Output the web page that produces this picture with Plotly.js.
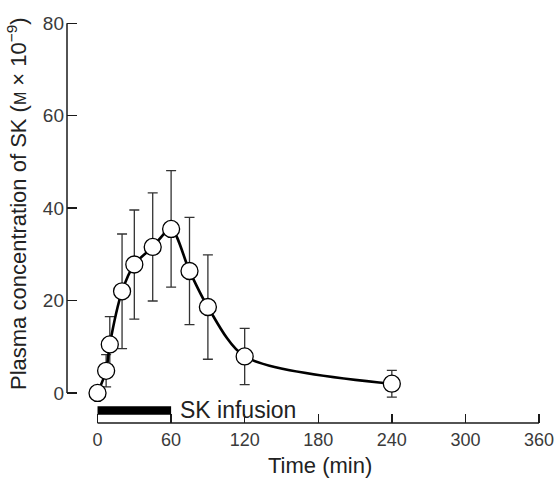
<!DOCTYPE html>
<html>
<head>
<meta charset="utf-8">
<script src="https://cdn.plot.ly/plotly-3.0.1.min.js"></script>
<style>html,body{margin:0;padding:0;background:#fff;}#chart{width:554px;height:483px;}</style>
</head>
<body>
<div id="chart"></div>
<script>
// Time after start of infusion (min)
const timeMin = [0, 7, 10, 20, 30, 45, 60, 75, 90, 120, 240];
// Mean plasma concentration of SK (M x 10^-9)
const concMean = [0, 4.8, 10.5, 22.0, 27.8, 31.6, 35.5, 26.4, 18.6, 7.9, 2.0];
// Error bar half-widths
const concErr = [0, 3.5, 6.0, 12.4, 11.8, 11.7, 12.6, 11.6, 11.3, 6.1, 2.9];
const xTicks = [0, 60, 120, 180, 240, 300, 360];
const yTicks = [0, 20, 40, 60, 80];
const infusionStart = 0, infusionEnd = 60;

const ink = '#1a1a1a';
const fontFam = 'Liberation Sans, Arial, sans-serif';

const traces = [{
  x: timeMin, y: concMean, type: 'scatter', mode: 'lines+markers',
  line: {color: '#000', width: 2.6, shape: 'spline', smoothing: 0.8},
  marker: {symbol: 'circle', size: 17, color: '#fff', line: {color: '#000', width: 1.3}},
  error_y: {type: 'data', array: concErr, visible: true, color: '#333', thickness: 1.3, width: 5},
  cliponaxis: false, hoverinfo: 'skip'
}];

const layout = {
  width: 554, height: 483,
  margin: {l: 67, r: 10, t: 21, b: 60},
  paper_bgcolor: '#fff', plot_bgcolor: '#fff',
  showlegend: false,
  font: {family: fontFam, color: '#2a2a2a', size: 18},
  xaxis: {
    range: [-24.9, 364.1], tickvals: xTicks, ticktext: xTicks.map(String),
    ticks: 'inside', ticklen: 9, tickwidth: 1.4, tickcolor: ink,
    showline: false, showgrid: false, zeroline: false,
    tickfont: {size: 18, color: '#3a3a3a'}, ticklabelstandoff: 4,
    ticklabeloverflow: 'allow'
  },
  yaxis: {
    range: [-6.5, 80.5], tickvals: yTicks, ticktext: yTicks.map(String),
    ticks: 'inside', ticklen: 10, tickwidth: 1.4, tickcolor: ink,
    showline: false, showgrid: false, zeroline: false,
    tickfont: {size: 19, color: '#3a3a3a'}, ticklabelstandoff: 2,
    ticklabeloverflow: 'allow'
  },
  shapes: [
    {type: 'line', xref: 'paper', yref: 'y', x0: 0, x1: 0, y0: 0, y1: 80, line: {color: ink, width: 1.5}},
    {type: 'line', xref: 'x', yref: 'paper', x0: 0, x1: 360, y0: 0, y1: 0, line: {color: ink, width: 1.5}},
    {type: 'rect', xref: 'x', yref: 'y', x0: infusionStart, x1: infusionEnd, y0: -4.7, y1: -2.9, fillcolor: '#000', line: {width: 0}}
  ],
  annotations: [
    {text: 'SK infusion', xref: 'x', yref: 'y', x: 66, y: -3.6, xanchor: 'left', yanchor: 'middle', showarrow: false, font: {size: 23, color: '#222'}},
    {text: 'Time (min)', xref: 'paper', yref: 'paper', x: (320 - 67) / 477, y: -(466 - 423) / 402, xanchor: 'center', yanchor: 'middle', showarrow: false, font: {size: 22, color: '#222'}},
    {text: 'Plasma concentration of SK (<span style="font-size:16px">M</span> × 10<sup>−9</sup>)', xref: 'paper', yref: 'paper', x: (17 - 67) / 477, y: (423 - 204) / 402, xanchor: 'center', yanchor: 'middle', textangle: -90, showarrow: false, font: {size: 22, color: '#222'}}
  ]
};

Plotly.newPlot('chart', traces, layout, {displayModeBar: false, staticPlot: true});
</script>
</body>
</html>
